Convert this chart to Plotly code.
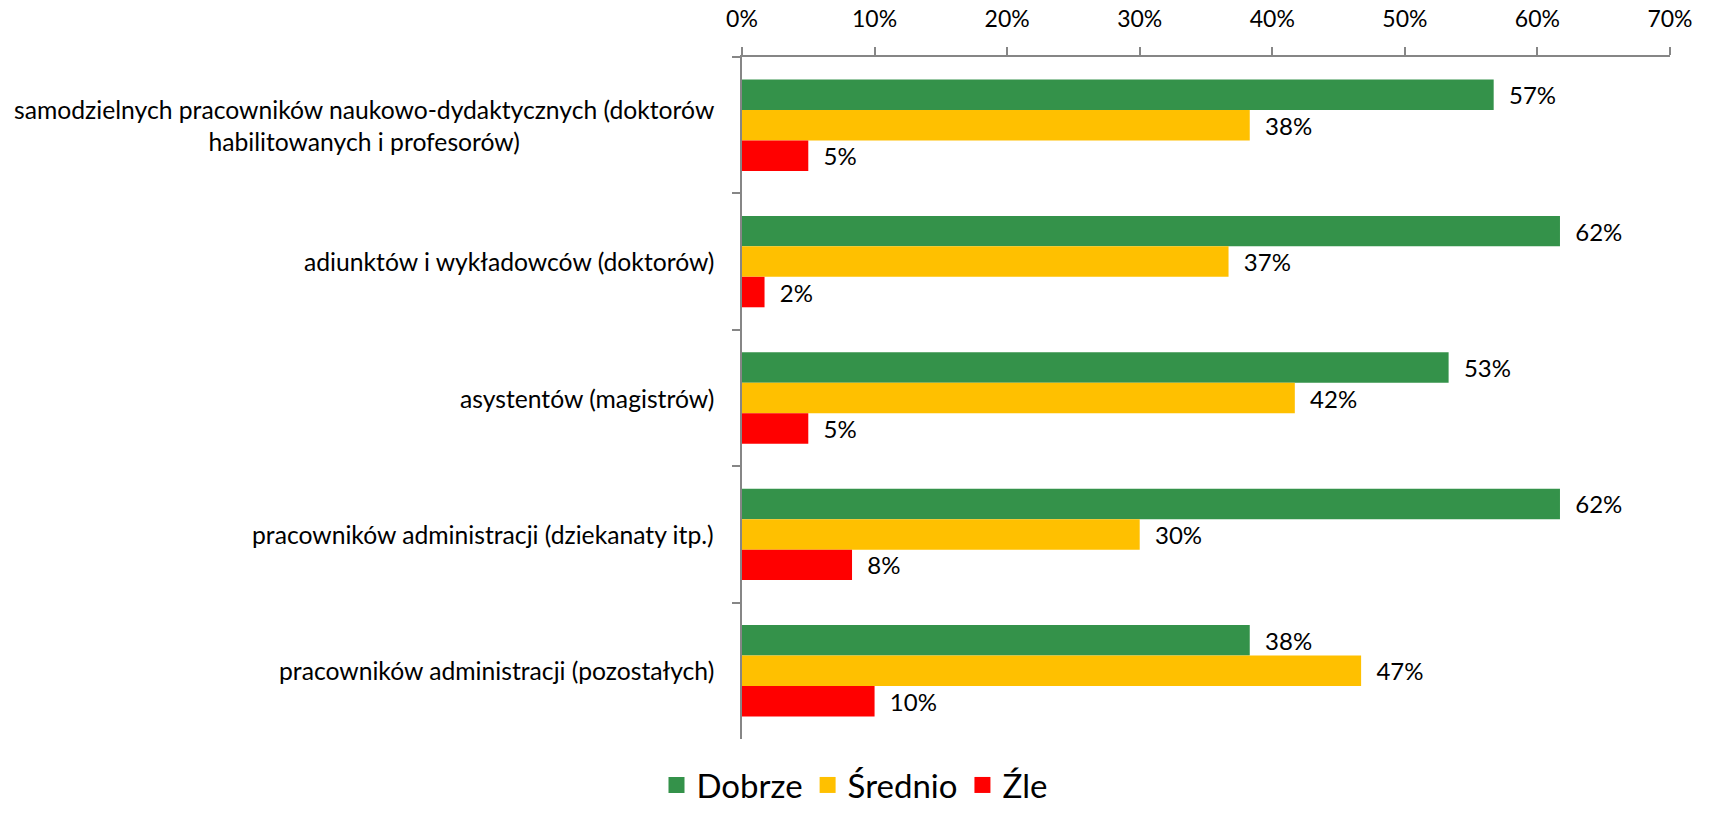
import plotly.graph_objects as go

categories = [
    "samodzielnych pracowników naukowo-dydaktycznych (doktorów<br>habilitowanych i profesorów)",
    "adiunktów i wykładowców (doktorów)",
    "asystentów (magistrów)",
    "pracowników administracji (dziekanaty itp.)",
    "pracowników administracji (pozostałych)",
]
series_names = ["Dobrze", "Średnio", "Źle"]
dobrze = [56.7, 61.7, 53.3, 61.7, 38.3]
srednio = [38.3, 36.7, 41.7, 30.0, 46.7]
zle = [5.0, 1.7, 5.0, 8.3, 10.0]
colors = ["#34924A", "#FFC000", "#FF0000"]

FONT = "Lato"
axis_gray = "#868686"

fig = go.Figure()
for name, vals, col in zip(series_names, [dobrze, srednio, zle], colors):
    fig.add_trace(go.Bar(
        y=categories, x=vals, name=name, orientation="h",
        marker=dict(color=col, line=dict(width=0)),
        texttemplate="\u00a0\u00a0%{x:.0f}%", textposition="outside",
        textfont=dict(family=FONT, size=24, color="#000000"),
        cliponaxis=False, showlegend=False,
    ))
    # legend entry with a larger square swatch
    fig.add_trace(go.Scatter(
        x=[None], y=[None], mode="markers", name=name,
        marker=dict(symbol="square", size=16, color=col),
        showlegend=True,
    ))

# category labels, centred line by line
for cat in categories:
    fig.add_annotation(
        x=0, xref="paper", y=cat, yref="y", xanchor="right", yanchor="middle",
        xshift=-26, text=cat, showarrow=False, align="center",
        font=dict(family=FONT, size=24.7, color="#000000"),
    )

fig.update_layout(
    width=1709, height=813,
    paper_bgcolor="white", plot_bgcolor="white",
    margin=dict(l=742, r=39, t=57, b=74),
    barmode="group", bargap=0.33, bargroupgap=0,
    font=dict(family=FONT, size=22, color="#000000"),
    legend=dict(
        orientation="h", xref="container", yref="container",
        x=0.5, xanchor="center", y=0.0, yanchor="bottom",
        font=dict(family=FONT, size=33, color="#000000"),
        itemsizing="trace", traceorder="normal",
        bgcolor="rgba(0,0,0,0)",
    ),
    xaxis=dict(
        side="top", range=[0, 70], dtick=10, ticksuffix="%",
        showgrid=False, zeroline=False, automargin=False,
        showline=True, linecolor=axis_gray, linewidth=1.5,
        ticks="outside", ticklen=8, tickcolor=axis_gray, tickwidth=1.5,
        tickfont=dict(family=FONT, size=23, color="#000000"),
        ticklabelstandoff=11,
    ),
    yaxis=dict(
        type="category", autorange="reversed", automargin=False,
        showticklabels=False, showgrid=False, zeroline=False,
        showline=True, linecolor=axis_gray, linewidth=1.5,
        ticks="outside", tickson="boundaries", ticklen=8,
        tickcolor=axis_gray, tickwidth=1.5,
    ),
)

fig.write_html("out.html")
